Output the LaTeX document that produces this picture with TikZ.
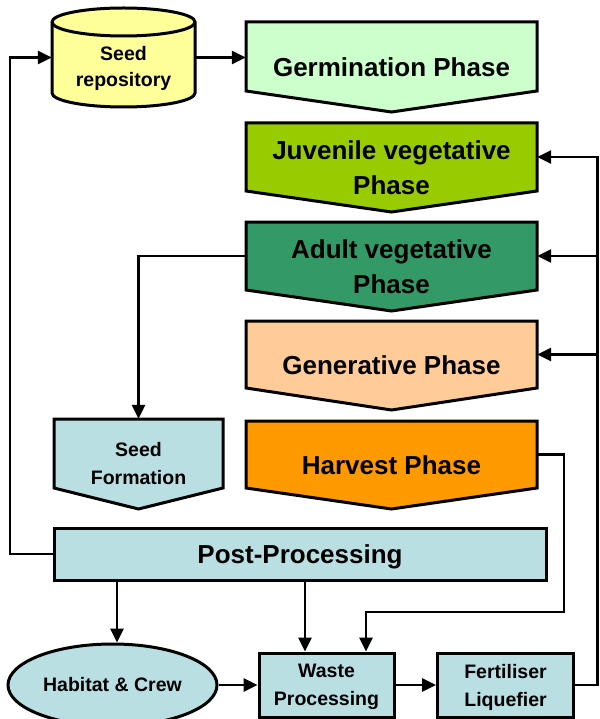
\documentclass[tikz,border=0pt]{standalone}
\usepackage{fontspec}
\setmainfont{Liberation Sans}
\usetikzlibrary{arrows.meta,shapes.geometric,calc}
\definecolor{repoY}{HTML}{FFFF99}
\definecolor{germG}{HTML}{CCFFCC}
\definecolor{juvG}{HTML}{99CC00}
\definecolor{adultG}{HTML}{339966}
\definecolor{genO}{HTML}{FFCC99}
\definecolor{harvO}{HTML}{FF9900}
\definecolor{paleB}{HTML}{B9DFE3}
\newcommand{\bigtxt}{\fontsize{26}{35}\selectfont\bfseries}
\newcommand{\smalltxt}{\fontsize{19.5}{28}\selectfont\bfseries}
% name, x1, x2, ytop, yside, ytip, fill, font, text
\newcommand{\chev}[9]{%
  \draw[shapeborder,fill=#7] (#2,#4) -- (#3,#4) -- (#3,#5) -- ({(#2+#3)/2},#6) -- (#2,#5) -- cycle;
  \node[inner sep=0pt, minimum width={#3-#2}, minimum height={#5-#4}] (#1) at ({(#2+#3)/2},{(#4+#5)/2}) {};
  \node[align=center, inner sep=0pt, font=#8] (#1-t) at ({(#2+#3)/2},{(#4+#6)/2}) {#9};
}
\tikzset{
  shapeborder/.style={line width=3pt, line join=miter},
  arr/.style={line width=2.6pt, -{Triangle[length=14pt,width=13pt]}},
  conn/.style={line width=2.6pt},
  boxb/.style={draw, line width=3pt, fill=paleB, inner sep=0pt, align=center, font=\smalltxt},
}
\begin{document}
\begin{tikzpicture}[x=1pt,y=-1pt]
\useasboundingbox (0,0) rectangle (599,719);
% seed repository cylinder
\draw[shapeborder, fill=repoY] (52,22) -- (52,93) arc[start angle=180, end angle=0, x radius=71.5, y radius=14] -- (195,22) arc[start angle=0, end angle=-180, x radius=71.5, y radius=14] -- cycle;
\draw[shapeborder] (52,22) arc[start angle=180, end angle=0, x radius=71.5, y radius=14];
\node[inner sep=0pt, minimum width=143, minimum height=99] (repo) at (123.5,57.5) {};
\node[align=center, inner sep=0pt, font=\fontsize{19.5}{26}\selectfont\bfseries, text depth=0pt] (repo-t) at (123.5,66) {Seed\\repository};
% phases
\chev{germ}{246}{537}{22}{91}{112}{germG}{\bigtxt}{Germination Phase}
\chev{juv}{246}{537}{123}{191}{212}{juvG}{\bigtxt}{Juvenile vegetative\\Phase}
\chev{adult}{246}{537}{222}{290}{311}{adultG}{\bigtxt}{Adult vegetative\\Phase}
\chev{gen}{246}{537}{321}{388}{410}{genO}{\bigtxt}{Generative Phase}
\chev{harv}{246}{537}{421}{488}{509}{harvO}{\bigtxt}{Harvest Phase}
\chev{sf}{54}{223}{419}{488}{509}{paleB}{\smalltxt}{Seed\\Formation}
% post processing
\node[boxb, minimum width=492, minimum height=52, font=\bigtxt, text depth=-2pt] (post) at (300,554) {Post-Processing};
% bottom row
\node[boxb, ellipse, minimum width=209, minimum height=82] (hab) at (112.5,685) {Habitat \& Crew};
\node[boxb, minimum width=135, minimum height=64, text depth=-3pt] (waste) at (326.5,685) {Waste\\Processing};
\node[boxb, minimum width=136, minimum height=64, text depth=-3pt] (fert) at (505.5,685) {Fertiliser\\Liquefier};
\coordinate (rt) at (597.5,0);
\coordinate (hl) at (564,612);
% connectors
\draw[arr] (repo.east) -- (repo.east -| germ.west);
\draw[arr] (post.west) -| (10,0 |- repo.west) -- (repo.west);
\draw[arr] (adult.west) -| (sf.north);
\draw[arr] (harv.east) -| (hl) -| ([xshift=39.5pt]waste.north);
\draw[arr] ([xshift=4.5pt]hab.north |- post.south) -- ([xshift=4.5pt]hab.north);
\draw[arr] ([xshift=-21.5pt]waste.north |- post.south) -- ([xshift=-21.5pt]waste.north);
\draw[arr] (hab.east) -- (waste.west);
\draw[arr] (waste.east) -- (fert.west);
\draw[conn] (fert.east) -| (rt |- juv.east) -- ($(juv.east -| rt)+(-20,0)$);
\draw[arr] (juv.east -| rt) -- (juv.east);
\draw[arr] (adult.east -| rt) -- (adult.east);
\draw[arr] (gen.east -| rt) -- (gen.east);
\end{tikzpicture}
\end{document}
